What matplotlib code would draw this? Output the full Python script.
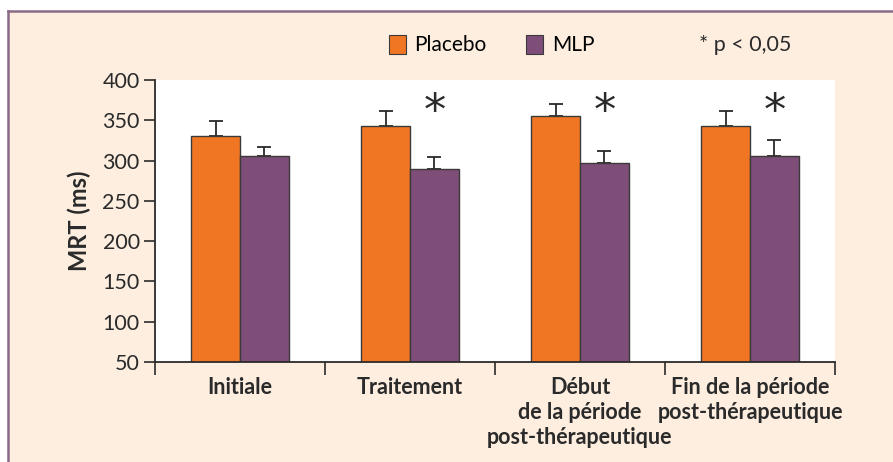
import matplotlib
matplotlib.use("Agg")
import matplotlib.pyplot as plt
from matplotlib.patches import Rectangle, Patch
import numpy as np

plt.rcParams['font.family'] = ['Lato', 'DejaVu Sans']

categories = ["Initiale", "Traitement", "Début\nde la période\npost-thérapeutique",
              "Fin de la période\npost-thérapeutique"]
placebo = [330, 343, 355, 343]
placebo_err = [19, 18, 15, 19]
mlp = [306, 290, 297, 306]
mlp_err = [11, 14, 15, 19]
significant = [False, True, True, True]
yticks = [50, 100, 150, 200, 250, 300, 350, 400]

c_orange = "#f07623"
c_purple = "#7e4d78"
c_bg = "#fdeee0"
c_frame = "#8b6a86"
c_dark = "#2a2a2a"

W, H = 893, 462
fig = plt.figure(figsize=(W / 100, H / 100), dpi=100, facecolor="white")

# outer cream panel with frame on top and left
fig.add_artist(Rectangle((7.5 / W, -0.05), 1.1, 1 - 11 / H + 0.05, transform=fig.transFigure,
                         facecolor=c_bg, edgecolor="none", zorder=0))
fig.add_artist(plt.Line2D([7.5 / W, 7.5 / W], [0, 1 - 11 / H], transform=fig.transFigure,
                          color=c_frame, lw=1.8, zorder=1))
fig.add_artist(plt.Line2D([7.5 / W, 1], [1 - 11 / H, 1 - 11 / H], transform=fig.transFigure,
                          color=c_frame, lw=1.8, zorder=1))

ax = fig.add_axes([155 / W, (H - 362) / H, 680 / W, 282 / H])
ax.set_facecolor("white")

x = np.arange(len(categories))
bw = 0.288
ax.bar(x - bw / 2, placebo, bw, color=c_orange, edgecolor="#3a3a3a", linewidth=1.0, zorder=2)
ax.bar(x + bw / 2, mlp, bw, color=c_purple, edgecolor="#3a3a3a", linewidth=1.0, zorder=2)
ax.errorbar(x - bw / 2, placebo, yerr=[np.zeros(len(x)), placebo_err], fmt="none",
            ecolor=c_dark, elinewidth=1.3, capsize=4.8, capthick=1.3, zorder=1)
ax.errorbar(x + bw / 2, mlp, yerr=[np.zeros(len(x)), mlp_err], fmt="none",
            ecolor=c_dark, elinewidth=1.3, capsize=4.8, capthick=1.3, zorder=1)

for i, s in enumerate(significant):
    if s:
        ax.text(x[i] + bw / 2, 360, "*", ha="center", va="center", fontsize=32,
                family="DejaVu Sans", color=c_dark)

ax.set_xlim(-0.5, len(categories) - 0.5)
ax.set_ylim(50, 400)
ax.set_yticks(yticks)
ax.set_yticklabels([str(v) for v in yticks], fontsize=15.5, color=c_dark)
ax.set_xticks(np.arange(len(categories) + 1) - 0.5)
ax.set_xticklabels([])
ax.set_xticks(x, minor=True)
ax.set_xticklabels(categories, minor=True, fontsize=15.5, fontweight="bold", color=c_dark,
                   linespacing=1.22, va="top")
ax.tick_params(axis="x", which="minor", length=0, pad=11)
ax.tick_params(axis="x", which="major", length=9, width=1.2, color=c_dark)
ax.tick_params(axis="y", length=8, width=1.2, color=c_dark, pad=3)

for sp in ["top", "right"]:
    ax.spines[sp].set_visible(False)
for sp in ["left", "bottom"]:
    ax.spines[sp].set_color(c_dark)
    ax.spines[sp].set_linewidth(1.3)

ax.set_ylabel("MRT (ms)", fontsize=17, fontweight="bold", color=c_dark, labelpad=8)

handles = [Patch(facecolor=c_orange, edgecolor="#3a3a3a", linewidth=0.8, label="Placebo"),
           Patch(facecolor=c_purple, edgecolor="#3a3a3a", linewidth=0.8, label="MLP")]
fig.legend(handles=handles, loc="center left", bbox_to_anchor=(389 / W, 1 - 45 / H),
           ncol=2, frameon=False, fontsize=15, handlelength=0.8, handleheight=1.05,
           handletextpad=0.42, columnspacing=1.9, borderpad=0, borderaxespad=0)
fig.text(699 / W, 1 - 45 / H, "* p < 0,05", fontsize=15.5, ha="left", va="center", color=c_dark)

fig.savefig("out.png", dpi=100, facecolor=fig.get_facecolor())
